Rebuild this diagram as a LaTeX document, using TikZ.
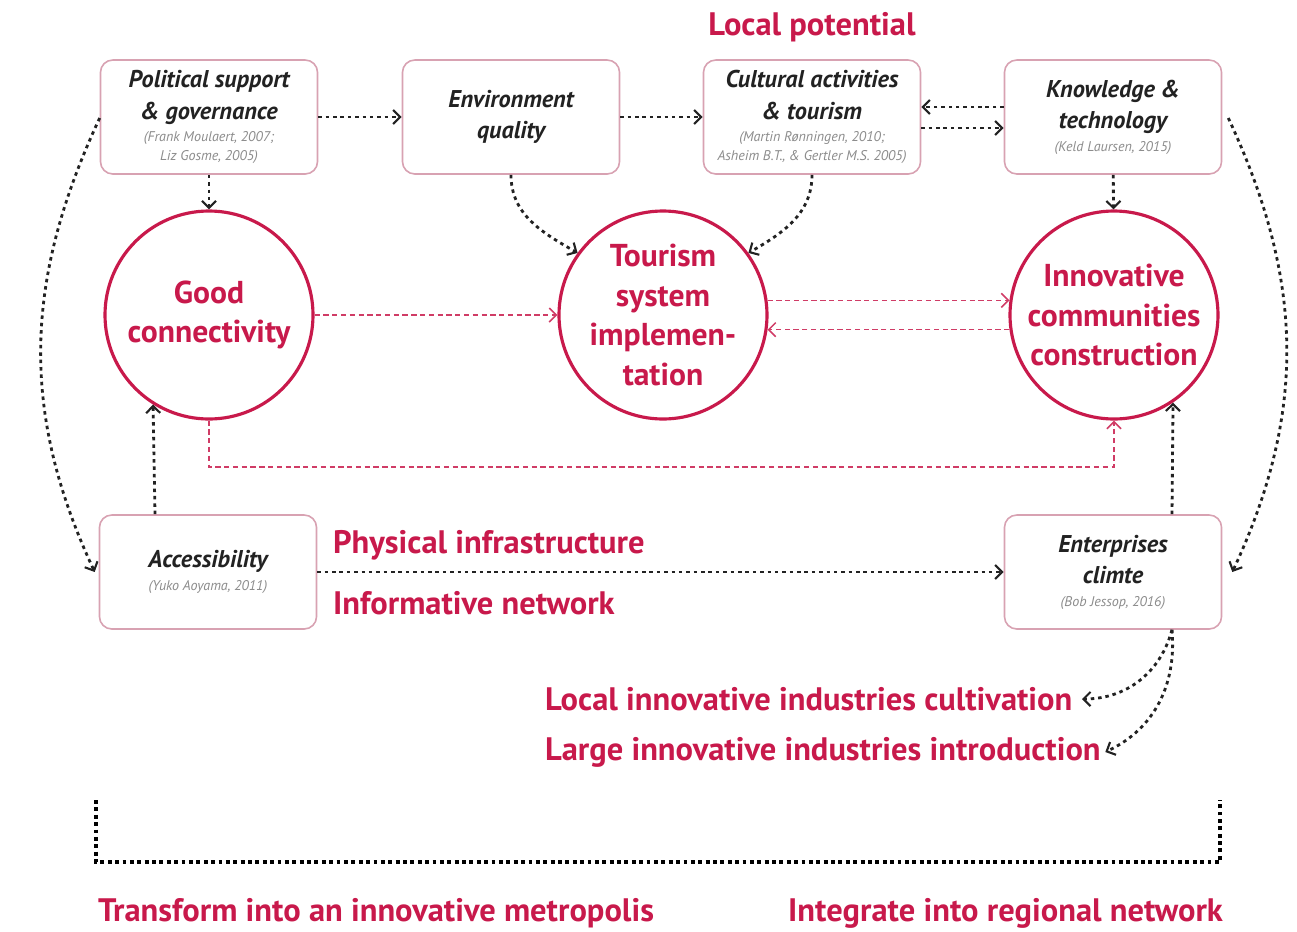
\documentclass[tikz,border=0pt]{standalone}
\usepackage{fontspec}
\setmainfont{PT Sans}
\usepackage{tikz}
\usetikzlibrary{arrows.meta,calc}
\definecolor{rosered}{HTML}{C8194B}
\definecolor{boxrim}{HTML}{D8A2B2}
\definecolor{inkdark}{HTML}{222222}
\definecolor{citegray}{HTML}{8C8C8C}
\newcommand{\refline}[1]{\par\vspace{2pt}{\fontsize{8}{10.8}\selectfont\mdseries\color{citegray}#1\par}}

\begin{document}
\begin{tikzpicture}[
  box/.style={draw=boxrim, line width=0.9pt, fill=white, rounded corners=7pt, minimum width=4.28cm, minimum height=2.28cm, text width=4.2cm, align=flush center, inner sep=2pt, font=\fontsize{13.8}{18}\selectfont\bfseries\itshape, text=inkdark},
  hub/.style={circle, draw=rosered, line width=1.8pt, fill=white, minimum size=4.16cm, inner sep=0pt, align=center, text=rosered, font=\fontsize{18}{22.5}\selectfont\bfseries},
  tag/.style={text=rosered, font=\fontsize{18.5}{22}\selectfont\bfseries, inner sep=1pt},
  dots/.style={-{Straight Barb[length=4pt,width=8pt,line width=1.2pt]}, draw=inkdark, line width=1.6pt, dash pattern=on 2pt off 2.2pt},
  reddots/.style={-{Straight Barb[length=4pt,width=8pt,line width=0.9pt]}, draw=rosered!85!white, line width=0.9pt, dash pattern=on 3pt off 2pt},
  bracketline/.style={draw=black, line width=2.2pt, dash pattern=on 2.2pt off 2pt},
]
\useasboundingbox (0,0) rectangle (25.94,-18.64);
% top row
\node[box] (pol) at (4.18,-2.34) {Political support\\ \& governance\refline{(Frank Moulaert, 2007;\\ Liz Gosme, 2005)}};
\node[box] (env) at (10.22,-2.34) {Environment\\quality};
\node[box] (cult) at (16.24,-2.34) {Cultural activities\\ \& tourism\refline{(Martin Rønningen, 2010;\\ Asheim B.T., \& Gertler M.S. 2005)}};
\node[box] (know) at (22.26,-2.34) {Knowledge \&\\technology\refline{(Keld Laursen, 2015)}};
\node[tag] (lp) at (16.24,-0.54) {Local potential};
% circles
\node[hub] (good) at (4.18,-6.30) {Good\\connectivity};
\node[hub] (tour) at (13.26,-6.30) {Tourism\\system\\implemen-\\tation};
\node[hub] (innov) at (22.28,-6.30) {Innovative\\communities\\construction};
% bottom row
\node[box] (acc) at (4.16,-11.44) {Accessibility\refline{(Yuko Aoyama, 2011)}};
\node[box] (ent) at (22.26,-11.44) {Enterprises\\climte\refline{(Bob Jessop, 2016)}};
\node[tag, anchor=west] (phys) at (6.62,-10.90) {Physical infrastructure};
\node[tag, anchor=west] (info) at (6.62,-12.06) {Informative network};
\node[tag, anchor=west] (cultiv) at (10.86,-13.98) {Local innovative industries cultivation};
\node[tag, anchor=west] (intro) at (10.86,-15.04) {Large innovative industries introduction};
\node[tag, anchor=west] (metro) at (1.92,-18.26) {Transform into an innovative metropolis};
\node[tag, anchor=east] (region) at (24.5,-18.26) {Integrate into regional network};
% black links
\foreach \a/\b in {pol/env, env/cult, pol/good, know/innov, acc/ent} \draw[dots] (\a) -- (\b);
\draw[dots] ([yshift=0.2cm]know.west) -- ([yshift=0.2cm]cult.east);
\draw[dots] ([yshift=-0.22cm]cult.east) -- ([yshift=-0.22cm]know.west);
\draw[dots] (env.south) to[out=-90,in=150] (tour.144);
\draw[dots] (cult.south) to[out=-90,in=30] (tour.36);
\draw[dots] ([yshift=-0.02cm]pol.west) to[out=245,in=115] ([xshift=-0.08cm]acc.west);
\draw[dots] ([yshift=-0.02cm,xshift=0.12cm]know.east) to[out=-65,in=65] ([xshift=0.2cm]ent.east);
\draw[dots] ([xshift=-1.06cm]acc.north) -- (good.238);
\draw[dots] ([xshift=1.18cm]ent.north) -- (innov.304);
\coordinate (entfoot) at ([xshift=1.18cm]ent.south);
\draw[dots] (entfoot) to[out=-105,in=0] ([xshift=0.15cm]cultiv.east);
\draw[dots] (entfoot) to[out=-85,in=25] ([xshift=0.05cm]intro.east);
% red links
\draw[reddots] (good) -- (tour);
\draw[reddots] (tour.8) -- (innov.172);
\draw[reddots] (innov.188) -- (tour.352);
\coordinate (lowrun) at (0,-9.34);
\draw[reddots] (good.south) -- (good.south |- lowrun) -| (innov.south);
% bracket
\coordinate (brl) at (1.92,-16.0);
\coordinate (brr) at (24.40,-16.0);
\coordinate (brbase) at (0,-17.24);
\draw[bracketline] (brl) -- (brl |- brbase) -- (brr |- brbase) -- (brr);
\end{tikzpicture}
\end{document}
